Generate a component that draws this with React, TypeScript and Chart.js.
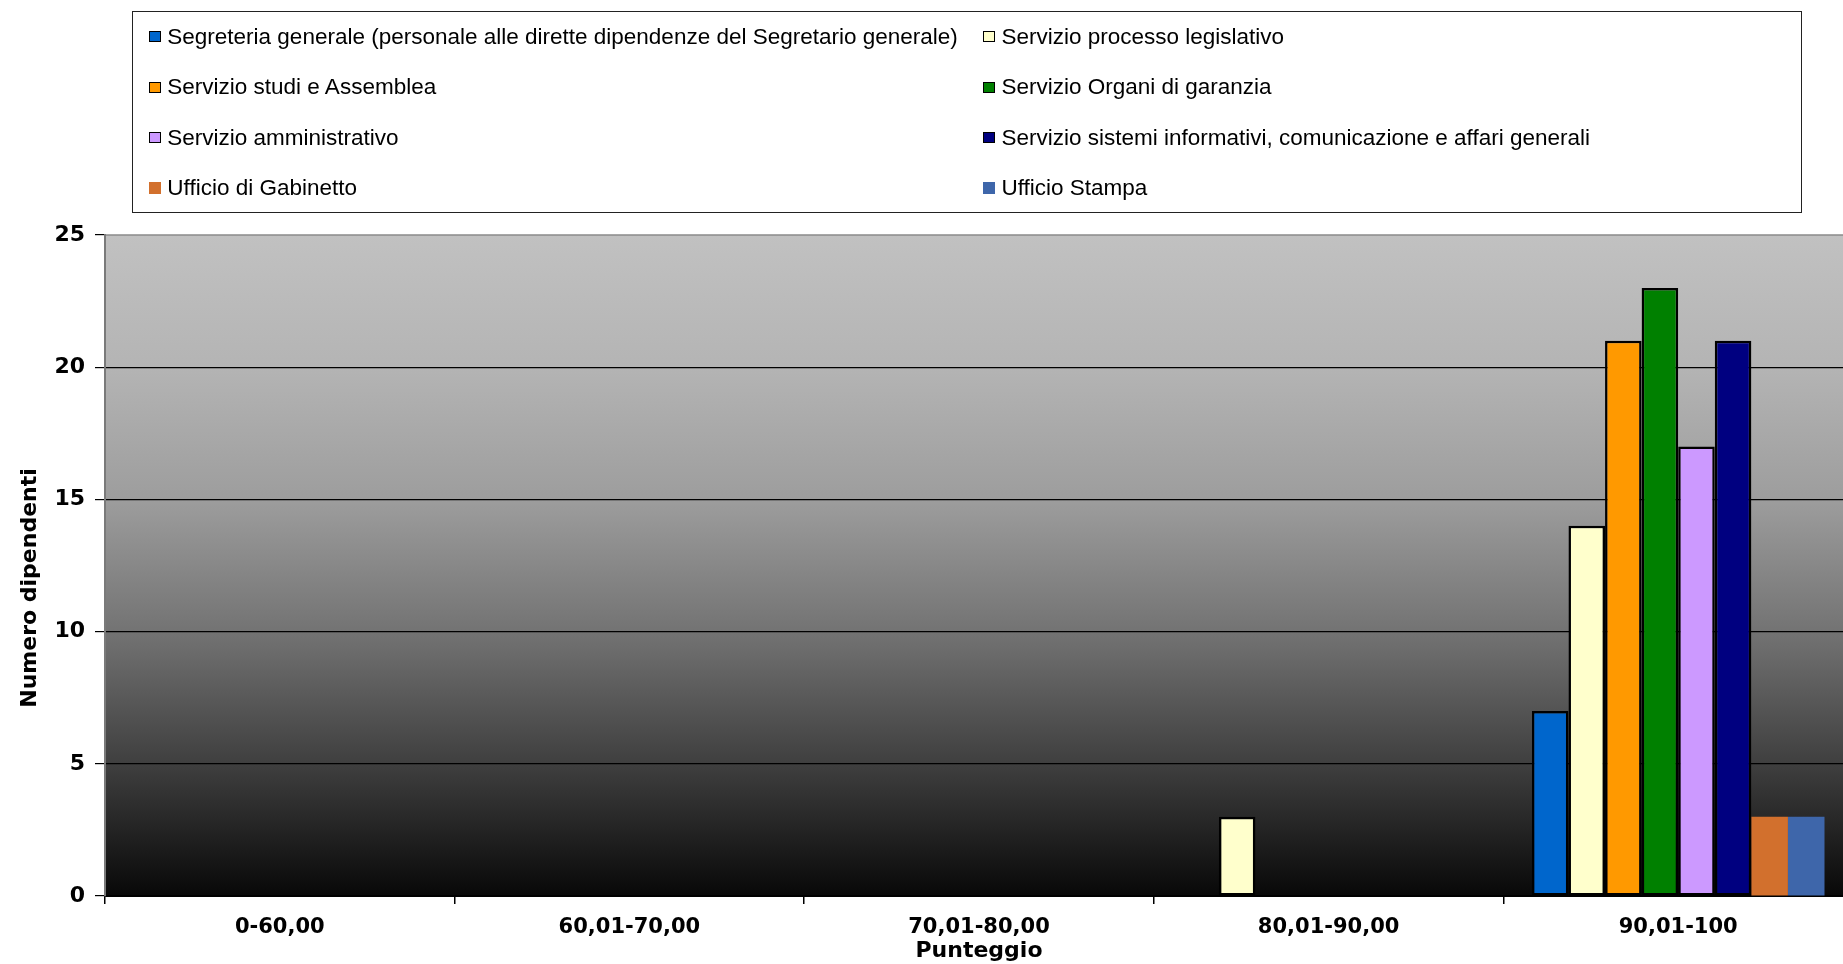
import React, { useEffect, useRef } from 'react';
import { Chart, registerables } from 'chart.js';

Chart.register(...registerables);

// ---- Data ----
const categories = ['0-60,00', '60,01-70,00', '70,01-80,00', '80,01-90,00', '90,01-100'];
const seriesNames = [
  'Segreteria generale (personale alle dirette dipendenze del Segretario generale)',
  'Servizio processo legislativo',
  'Servizio studi e Assemblea',
  'Servizio Organi di garanzia',
  'Servizio amministrativo',
  'Servizio sistemi informativi, comunicazione e affari generali',
  'Ufficio di Gabinetto',
  'Ufficio Stampa',
];
const segreteriaGenerale = [0, 0, 0, 0, 7];
const processoLegislativo = [0, 0, 0, 3, 14];
const studiAssemblea = [0, 0, 0, 0, 21];
const organiGaranzia = [0, 0, 0, 0, 23];
const amministrativo = [0, 0, 0, 0, 17];
const sistemiInformativi = [0, 0, 0, 0, 21];
const ufficioGabinetto = [0, 0, 0, 0, 3];
const ufficioStampa = [0, 0, 0, 0, 3];
const seriesValues = [
  segreteriaGenerale,
  processoLegislativo,
  studiAssemblea,
  organiGaranzia,
  amministrativo,
  sistemiInformativi,
  ufficioGabinetto,
  ufficioStampa,
];
const yMin = 0;
const yMax = 25;
const yStep = 5;
const xTitle = 'Punteggio';
const yTitle = 'Numero dipendenti';

// ---- Styles ----
const fillColors = ['#0066CC', '#FFFFCC', '#FF9900', '#008000', '#CC99FF', '#000080', '#D2702D', '#3E66AA'];
const hasBorder = [true, true, true, true, true, true, false, false];
const AXIS_FONT = 'DejaVu Sans';

const plotBg = {
  id: 'plotBg',
  beforeDraw(chart: any) {
    const { ctx, chartArea } = chart;
    const { left, top, right, bottom } = chartArea;
    const g = ctx.createLinearGradient(0, top, 0, bottom);
    g.addColorStop(0, '#c1c1c1');
    g.addColorStop(0.2, '#b4b4b4');
    g.addColorStop(0.4, '#9d9d9d');
    g.addColorStop(0.6, '#737373');
    g.addColorStop(0.8, '#3f3f3f');
    g.addColorStop(1, '#080808');
    ctx.save();
    ctx.fillStyle = g;
    ctx.fillRect(left, top, right - left, bottom - top);
    ctx.strokeStyle = '#8a8a8a';
    ctx.lineWidth = 1.5;
    ctx.beginPath();
    ctx.moveTo(left, top);
    ctx.lineTo(right, top);
    ctx.stroke();
    ctx.restore();
  },
};

const yTitlePlugin = {
  id: 'yTitleCustom',
  afterDraw(chart: any) {
    const { ctx } = chart;
    ctx.save();
    ctx.translate(30, 588);
    ctx.rotate(-Math.PI / 2);
    ctx.font = `bold 22px "${AXIS_FONT}"`;
    ctx.fillStyle = '#000';
    ctx.textAlign = 'center';
    ctx.textBaseline = 'middle';
    ctx.fillText(yTitle, 0, 0);
    ctx.restore();
  },
};

export default function App() {
  const canvasRef = useRef<HTMLCanvasElement | null>(null);

  useEffect(() => {
    if (!canvasRef.current) return;
    const chart = new Chart(canvasRef.current, {
      type: 'bar',
      data: {
        labels: categories,
        datasets: seriesValues.map((vals, i) => ({
          label: seriesNames[i],
          data: vals,
          backgroundColor: fillColors[i],
          borderColor: hasBorder[i] ? '#000' : fillColors[i],
          borderWidth: hasBorder[i] ? 2.5 : 0,
          borderSkipped: false,
          categoryPercentage: 0.837,
          barPercentage: 1.0,
        })),
      },
      options: {
        responsive: false,
        animation: false,
        devicePixelRatio: 1,
        layout: { padding: { top: 235, left: 0, right: 0, bottom: 0 } },
        plugins: {
          legend: { display: false },
          tooltip: { enabled: false },
        },
        scales: {
          x: {
            offset: true,
            grid: {
              display: true,
              offset: true,
              drawOnChartArea: false,
              drawTicks: true,
              tickLength: 8,
              color: '#000',
              tickColor: '#000',
              lineWidth: 1.5,
            },
            border: { display: true, color: '#000', width: 2 },
            ticks: {
              font: { family: AXIS_FONT, weight: 'bold', size: 21 },
              color: '#000',
              padding: 11,
              maxRotation: 0,
              autoSkip: false,
            },
            title: {
              display: true,
              text: xTitle,
              font: { family: AXIS_FONT, weight: 'bold', size: 22 },
              color: '#000',
              padding: { top: 0, bottom: 0 },
            },
            afterFit: (s: any) => {
              s.height = 68;
            },
          },
          y: {
            min: yMin,
            max: yMax,
            ticks: {
              stepSize: yStep,
              font: { family: AXIS_FONT, weight: 'bold', size: 22 },
              color: '#000',
              padding: 10,
            },
            grid: {
              color: (c: any) =>
                c.tick && (c.tick.value === yMin || c.tick.value === yMax) ? 'rgba(0,0,0,0)' : '#000',
              tickColor: '#000',
              lineWidth: 1.2,
              drawTicks: true,
              tickLength: 10,
            },
            border: { display: true, color: '#7a7a7a', width: 2 },
            title: { display: false },
            afterFit: (s: any) => {
              s.width = 105;
            },
          },
        },
      },
      plugins: [plotBg, yTitlePlugin],
    } as any);
    return () => chart.destroy();
  }, []);

  const legendItems = seriesNames.map((name, i) => {
    const col = i % 2;
    const row = Math.floor(i / 2);
    const markerLeft = col === 0 ? 149.3 : 983.4;
    const cy = 36.8 + row * 50.4;
    return (
      <React.Fragment key={name}>
        <div
          style={{
            position: 'absolute',
            left: markerLeft,
            top: cy - 5.7,
            width: 11.4,
            height: 11.4,
            boxSizing: 'border-box',
            background: fillColors[i],
            border: hasBorder[i] ? '1.6px solid #000' : 'none',
          }}
        />
        <div
          style={{
            position: 'absolute',
            left: markerLeft + 18,
            top: cy - 13,
            height: 26,
            lineHeight: '26px',
            fontFamily: '"Liberation Sans", Arial, sans-serif',
            fontSize: '22.5px',
            color: '#000',
            whiteSpace: 'nowrap',
          }}
        >
          {name}
        </div>
      </React.Fragment>
    );
  });

  return (
    <div
      style={{
        position: 'fixed',
        left: 0,
        top: 0,
        width: 1843,
        height: 964,
        overflow: 'hidden',
        background: '#fff',
      }}
    >
      <canvas
        ref={canvasRef}
        width={1853}
        height={964}
        style={{ position: 'absolute', left: 0, top: 0, width: 1853, height: 964 }}
      />
      <div
        style={{
          position: 'absolute',
          left: 132,
          top: 10.6,
          width: 1670,
          height: 202,
          boxSizing: 'border-box',
          border: '1.5px solid #222',
        }}
      />
      {legendItems}
    </div>
  );
}
